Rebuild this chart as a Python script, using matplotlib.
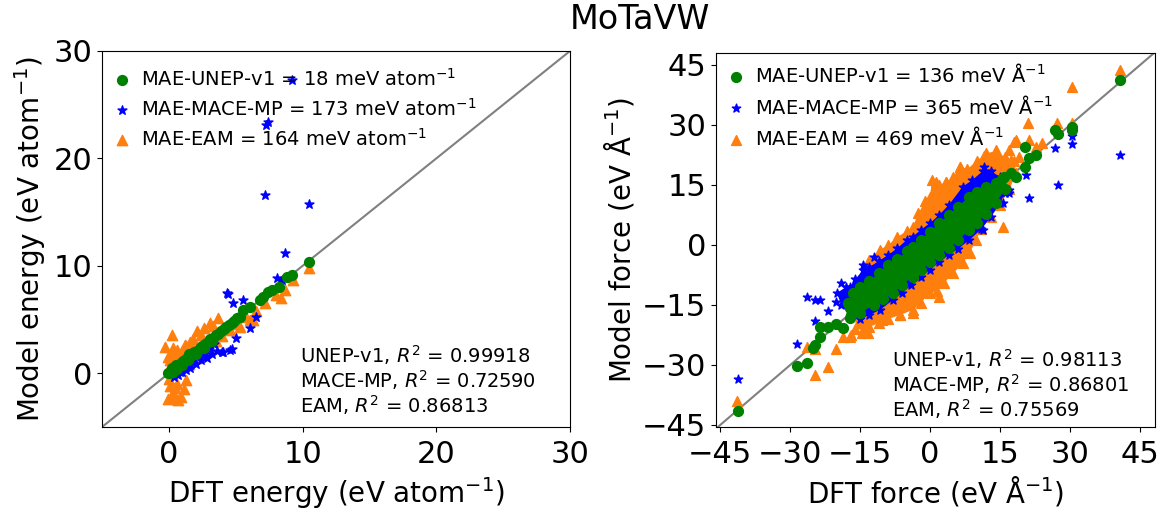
import matplotlib
matplotlib.use("Agg")
import matplotlib.pyplot as plt

# ---------------- Left panel: energy (eV/atom) ----------------
l_unep_x = [-0.05, 0.1, 0.2, 0.3, 0.45, 0.6, 0.75, 0.9, 1.05, 1.2, 1.35, 1.5, 1.7, 1.9, 2.1, 2.3, 2.5, 2.7,
            2.9, 3.1, 3.3, 3.5, 3.7, 3.9, 4.1, 4.3, 4.5, 4.7, 4.9, 5.1, 5.3, 0.3, 0.6, 1.0, 1.4, 0.2, 0.5,
            1.5, 2.0, 2.6, 3.2, 5.57, 6.07, 6.8, 7.05, 7.44, 7.7, 8.2, 8.8, 9.2, 10.45]
l_unep_y = [0.0, 0.05, 0.25, 0.35, 0.5, 0.6, 0.8, 0.95, 1.1, 1.2, 1.4, 1.55, 1.7, 1.95, 2.1, 2.35, 2.5, 2.75,
            2.9, 3.15, 3.3, 3.55, 3.7, 3.95, 4.1, 4.35, 4.5, 4.7, 4.9, 5.1, 5.25, 0.1, 0.4, 0.8, 1.2, 0.5, 0.8,
            1.8, 1.8, 2.4, 3.0, 5.88, 6.13, 6.8, 7.1, 7.6, 7.75, 8.05, 9.0, 9.14, 10.38]

l_mace_x = [0.4, 0.7, 0.83, 1.0, 1.3, 1.58, 1.6, 2.0, 2.4, 2.83, 2.8, 3.2, 3.6, 3.95, 4.08, 4.57, 4.7, 1.8, 2.6,
            3.0, 3.4, 4.33, 4.8, 5.57, 6.07, 7.2, 7.44, 7.3, 9.2, 10.45, 8.7, 8.07, 8.44, 4.45, 5.0, 6.5]
l_mace_y = [-0.3, -0.2, 0.14, 0.1, 0.3, 0.76, 0.5, 0.9, 1.2, 1.4, 1.6, 1.8, 2.1, 2.0, 2.0, 2.16, 2.25, 1.2, 1.9,
            2.3, 2.7, 7.44, 6.5, 6.8, 4.2, 16.6, 23.4, 23.1, 27.3, 15.75, 11.2, 8.84, 8.68, 7.37, 3.3, 5.2]

l_eam_x = [-0.27, -0.1, 0.0, 0.1, 0.15, 0.21, 0.3, 0.35, 0.5, 0.6, 0.8, 1.0, 1.3, 1.6, 2.08, 2.6, 3.08, 3.7,
           0.0, 0.1, 0.3, 0.5, 0.7, 0.9, 1.1, 0.6, 1.3, -0.04, 0.2, 0.45, 1.2, 1.8, 2.4, 3.3,
           1.5, 2.0, 2.5, 3.0, 3.5, 4.0, 4.6, 5.3, 5.8, 6.07, 6.3, 6.5, 7.2, 8.05, 8.4, 8.7, 9.3, 10.45, 4.5, 5.0]
l_eam_y = [2.47, 1.5, 0.5, 1.2, 1.8, 3.56, 2.4, 2.0, 1.6, 2.2, 1.8, 2.1, 2.5, 2.9, 3.9, 4.2, 4.65, 5.1,
           -0.5, -1.2, -1.8, -2.4, -2.5, -2.2, -1.5, -1.0, -0.6, -2.4, -2.0, -1.4, 2.6, 3.2, 3.6, 4.4,
           0.9, 1.4, 1.9, 2.5, 3.0, 3.5, 4.0, 4.3, 5.26, 4.95, 5.0, 5.8, 6.5, 7.3, 7.0, 7.75, 8.7, 9.76, 4.1, 4.6]

# ---------------- Right panel: force (eV/Å) ----------------
# outlines of the dense, fully overlapping part of each cloud
r_eam_env_x = [-16, -15, -13, -10.8, -9, -7, -5, -3.7, -2.5, -1, -0.1, 0.5, 2, 3.5, 5, 6.3, 8, 10, 12, 14.1,
               16, 18, 18.5, 17, 15, 13, 11, 9.8, 8.5, 7, 5, 3, 1.5, -0.1, -2, -3.7, -6.5, -9, -11, -13,
               -14.4, -16]
r_eam_env_y = [-14, -9, -3.75, -1.25, 0, 2, 3.5, 4.6, 8, 11, 12.1, 16.25, 15, 15.8, 17, 19.6, 19, 21, 22.9, 23.5,
               22, 21, 18, 14, 10, 7, 4, 1.25, -2, -4.6, -7, -9.5, -11.5, -12.1, -14.5, -16.25, -17.5, -18.5,
               -19.5, -20.5, -21.25, -21]
r_mace_env_x = [-20, -18, -17.2, -16, -14.4, -13, -11, -9, -7, -5, -3.7, -2, 0, 2, 4, 7, 9, 11.3, 13, 15,
                16, 15, 13, 11, 8.4, 6, 4, 2, -0.1, -2, -4, -6, -8, -10.8, -13, -15, -17, -19]
r_mace_env_y = [-12, -10.5, -10.4, -8.5, -6.25, -5.5, -4, -2.5, -0.8, 1.3, 2.1, 3.8, 5.5, 7.6, 10, 14.6, 16.2,
                18.5, 18.5, 17, 13, 10.5, 7, 4, 1.25, -1, -2.5, -4.3, -6.25, -8, -10, -12, -13.8, -16.25,
                -17.5, -18.5, -18, -15]
r_unep_env_x = [-17.5, -16.5, -15, -13, -11, -9, -7, -5, -3.7, -2, 0, 2, 4, 6, 8.4, 10, 12, 14.1, 15.5,
                16, 14.1, 12, 10, 8.4, 6, 4, 2, 0, -2, -3.7, -6, -8, -10, -12, -15.1, -17]
r_unep_env_y = [-14.5, -12, -10.5, -9, -7, -5, -3.5, -1.6, -0.4, 1.2, 3.3, 5.5, 7.5, 9.6, 12.1, 13.3, 14.6,
                15.4, 16.5, 14, 10.4, 7.8, 5.5, 3.75, 1.3, -0.7, -2.5, -4.3, -6.3, -7.9, -10, -12, -13.5,
                -15, -17, -17.5]

# individual (sparse) points
r_unep_x = [40.7, 26.8, 27.4, 30.4, 30.4, 20.4, 21.2, 20.4, 22.7, 15.9, 17.3, 18.4, -17.2, -17.2, -23.6,
            -21.9, -20.1, -18.7, -23.6, -24.7, -25.1, -28.6, -26.3, -41.1]
r_unep_y = [41.25, 28.75, 27.75, 29.4, 28.75, 24.6, 21.7, 19.4, 22.5, 17.1, 17.9, 16.9, -15.75, -18.25, -20.4,
            -20.4, -19.75, -20.8, -22.9, -25.0, -25.8, -30.25, -29.6, -41.4]
r_mace_x = [-41.1, -28.6, -26.5, -24.7, -23.6, -24.7, -21.9, -20.2, 40.7, 27.5, 26.8, 30.4, 30.4, 21.2, 20.5,
            17.0, 17.0, 15.6, 11.6, 11.3, -19.0, -18.5, -14.4, -12.0]
r_mace_y = [-33.6, -24.75, -12.9, -13.75, -13.75, -18.9, -16.4, -14.3, 22.5, 15.0, 24.3, 25.25, 27.25, 11.7, 17.5,
            13.75, 12.9, 10.4, 19.6, 3.75, -9.5, -12.0, -5.0, -3.0]
r_eam_x = [40.7, 30.4, 20.9, 27.3, 30.4, 18.4, 21.2, 22.7, 14.1, 11.6, 17.0, 17.3, 6.3, 1.3, 3.5, 15.6,
           -41.4, -24.7, -21.9, -20.2, -24.7, -26.5, -13.3, -16.9, -18.7, -10.4, -6.5, -3.7, 2.0, 19.0, 24.0,
           -17.2, -14.7, 18.0]
r_eam_y = [43.75, 39.4, 30.6, 30.4, 30.6, 26.25, 26.25, 24.6, 23.75, 22.25, 23.75, 21.25, 19.4, 15.8, 15.8, 4.6,
           -38.9, -32.5, -30.4, -26.1, -25.9, -25.4, -22.1, -22.5, -22.9, -18.75, -17.5, -17.1, -12.9, 22.0, 25.5,
           -22.9, -22.0, 25.8]

energy_labels = ["MAE-UNEP-v1 = 18 meV atom$^{-1}$",
                 "MAE-MACE-MP = 173 meV atom$^{-1}$",
                 "MAE-EAM = 164 meV atom$^{-1}$"]
force_labels = ["MAE-UNEP-v1 = 136 meV Å$^{-1}$",
                "MAE-MACE-MP = 365 meV Å$^{-1}$",
                "MAE-EAM = 469 meV Å$^{-1}$"]
energy_r2 = "UNEP-v1, $R^2$ = 0.99918\nMACE-MP, $R^2$ = 0.72590\nEAM, $R^2$ = 0.86813"
force_r2 = "UNEP-v1, $R^2$ = 0.98113\nMACE-MP, $R^2$ = 0.86801\nEAM, $R^2$ = 0.75569"
energy_ticks = [0, 10, 20, 30]
force_ticks = [-45, -30, -15, 0, 15, 30, 45]

C_UNEP, C_MACE, C_EAM = "green", "blue", "#ff7f0e"

fig = plt.figure(figsize=(11.63, 5.12), dpi=100)
axL = fig.add_axes([102/1163, 1-427/512, 468/1163, 376/512])
axR = fig.add_axes([716/1163, 1-427/512, 439/1163, 374/512])

leg_kw = dict(loc="upper left", frameon=False, fontsize=14, handlelength=1.25, handletextpad=0.35,
              labelspacing=0.42, borderaxespad=0.1, borderpad=0.3, markerscale=1.0)

# left
axL.plot([-5, 30], [-5, 30], color="gray", lw=1.5, zorder=1)
h3 = axL.scatter(l_eam_x, l_eam_y, marker="^", s=55, color=C_EAM, zorder=2)
h2 = axL.scatter(l_mace_x, l_mace_y, marker="*", s=45, color=C_MACE, zorder=3)
h1 = axL.scatter(l_unep_x, l_unep_y, marker="o", s=50, color=C_UNEP, zorder=4)
axL.set_xlim(-5, 30)
axL.set_ylim(-5, 30)
axL.set_xticks(energy_ticks)
axL.set_yticks(energy_ticks)
axL.tick_params(labelsize=22)
axL.tick_params(axis="x", pad=6)
axL.set_xlabel("DFT energy (eV atom$^{-1}$)", fontsize=20)
axL.set_ylabel("Model energy (eV atom$^{-1}$)", fontsize=20)
axL.legend([h1, h2, h3], energy_labels, bbox_to_anchor=(0.0, 0.977), **leg_kw)
axL.text(0.423, 0.027, energy_r2, transform=axL.transAxes, fontsize=14, ha="left", va="bottom",
         linespacing=1.05)

# right
axR.plot([-50, 50], [-50, 50], color="gray", lw=1.5, zorder=1)
axR.fill(r_eam_env_x, r_eam_env_y, color=C_EAM, lw=0, zorder=2)
axR.scatter(r_eam_env_x, r_eam_env_y, marker="^", s=50, color=C_EAM, zorder=2)
g3 = axR.scatter(r_eam_x, r_eam_y, marker="^", s=50, color=C_EAM, zorder=2)
axR.fill(r_mace_env_x, r_mace_env_y, color=C_MACE, lw=0, zorder=3)
axR.scatter(r_mace_env_x, r_mace_env_y, marker="*", s=40, color=C_MACE, zorder=3)
g2 = axR.scatter(r_mace_x, r_mace_y, marker="*", s=40, color=C_MACE, zorder=3)
axR.fill(r_unep_env_x, r_unep_env_y, color=C_UNEP, lw=0, zorder=4)
axR.scatter(r_unep_env_x, r_unep_env_y, marker="o", s=50, color=C_UNEP, zorder=4)
g1 = axR.scatter(r_unep_x, r_unep_y, marker="o", s=50, color=C_UNEP, zorder=4)
axR.set_xlim(-45.9, 48.2)
axR.set_ylim(-45.5, 48.0)
axR.set_xticks(force_ticks)
axR.set_yticks(force_ticks)
axR.tick_params(labelsize=22)
axR.tick_params(axis="x", pad=6)
axR.set_xlabel("DFT force (eV Å$^{-1}$)", fontsize=20)
axR.set_ylabel("Model force (eV Å$^{-1}$)", fontsize=20)
axR.legend([g1, g2, g3], force_labels, bbox_to_anchor=(0.0, 0.993), **leg_kw)
axR.text(0.40, 0.016, force_r2, transform=axR.transAxes, fontsize=14, ha="left", va="bottom",
         linespacing=1.05)

fig.suptitle("MoTaVW", fontsize=24, x=640/1163, y=0.995, va="top")
fig.savefig("out.png", dpi=100)
